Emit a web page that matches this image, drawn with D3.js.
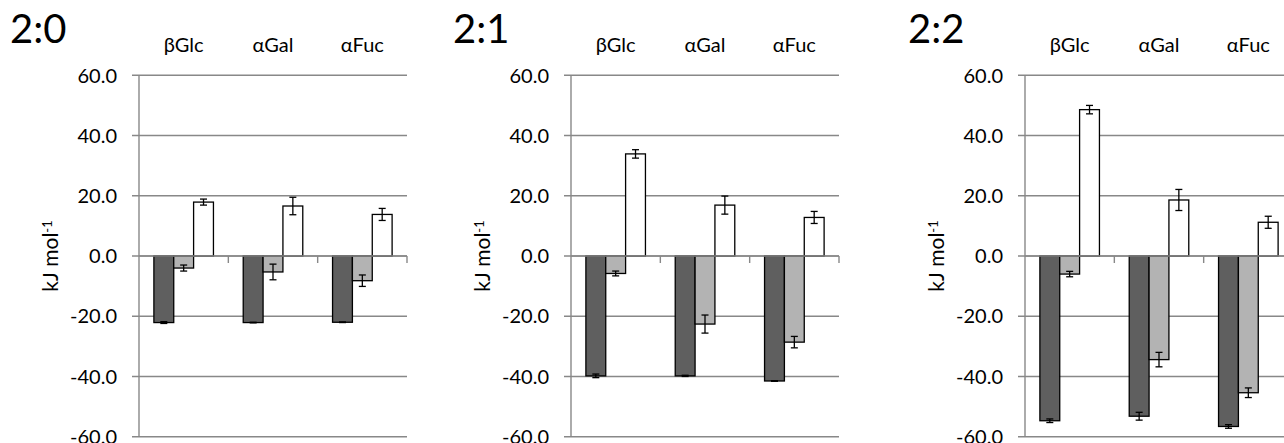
<!DOCTYPE html>
<html><head><meta charset="utf-8">
<script src="https://cdn.jsdelivr.net/npm/d3@7"></script>
<style>
body{margin:0;background:#fff;}
text{font-family:Lato,"Open Sans",sans-serif;fill:#000;}
</style></head>
<body><svg id="c" width="1284" height="443"></svg>
<script>
const categories = ["βGlc","αGal","αFuc"];
const series = ["s1","s2","s3"];
const panelTitles = ["2:0","2:1","2:2"];
const yTicks = [60,40,20,0,-20,-40,-60];
// values [panel][category][series]
const values20 = [[-22.1,-4.0,17.9],[-22.1,-5.3,16.6],[-22.0,-8.2,13.8]];
const errors20 = [[0.3,1.0,1.0],[0.1,2.6,2.9],[0.1,1.9,2.0]];
const values21 = [[-39.8,-5.8,33.9],[-39.8,-22.6,16.9],[-41.5,-28.6,12.8]];
const errors21 = [[0.6,0.8,1.4],[0.2,3.0,3.0],[0.1,1.9,2.0]];
const values22 = [[-54.7,-6.0,48.6],[-53.2,-34.4,18.6],[-56.6,-45.4,11.2]];
const errors22 = [[0.6,0.9,1.4],[1.3,2.4,3.5],[0.6,1.6,2.0]];

const allValues = [values20, values21, values22];
const allErrors = [errors20, errors21, errors22];
const colors = {s1:"#5f5f5f", s2:"#b3b3b3", s3:"#ffffff"};

const fmt = d3.formatLocale({decimal:".", thousands:",", grouping:[3], currency:["",""], minus:"-"}).format(".1f");

const svg = d3.select("#c");
const layout = [
  {axisX:139, titleX:10},
  {axisX:571, titleX:453},
  {axisX:1025, titleX:908}
];
const plotW = 268, plotTop = 75.3, plotBottom = 436.7;
const y = d3.scaleLinear().domain([-60,60]).range([plotBottom, plotTop]);
const grid = "#888888";

layout.forEach((L, p) => {
  const g = svg.append("g").attr("transform", `translate(${L.axisX},0)`);
  const x0 = d3.scaleBand().domain(categories).range([0, plotW]).paddingInner(0).paddingOuter(0);
  const x1 = d3.scaleBand().domain(series).range([0, x0.bandwidth()]).paddingInner(0).paddingOuter(0.75);

  // gridlines
  g.selectAll(".grid").data(yTicks).join("line")
    .attr("x1", -7).attr("x2", plotW)
    .attr("y1", d => y(d)).attr("y2", d => y(d))
    .attr("stroke", grid).attr("stroke-width", 1.4);
  // left axis
  g.append("line").attr("x1",0).attr("x2",0).attr("y1",y(60)).attr("y2",y(-60))
    .attr("stroke", grid).attr("stroke-width", 1.4);
  // tick labels
  g.selectAll(".tl").data(yTicks).join("text")
    .attr("x", -22).attr("y", d => y(d)).attr("dy","0.36em")
    .attr("text-anchor","end").style("font-size","20px")
    .text(d => fmt(d));

  // bars
  const data = [];
  categories.forEach((c, i) => series.forEach((s, j) => {
    data.push({c, s, v: allValues[p][i][j], e: allErrors[p][i][j]});
  }));
  const bars = g.selectAll(".bar").data(data).join("g");
  bars.append("rect")
    .attr("x", d => x0(d.c) + x1(d.s))
    .attr("width", x1.bandwidth())
    .attr("y", d => y(Math.max(0, d.v)))
    .attr("height", d => Math.abs(y(d.v) - y(0)))
    .attr("fill", d => colors[d.s]).attr("stroke", "#000").attr("stroke-width", 1.3);
  // error bars
  const cx = d => x0(d.c) + x1(d.s) + x1.bandwidth()/2;
  bars.append("line").attr("x1", cx).attr("x2", cx)
    .attr("y1", d => y(d.v + d.e)).attr("y2", d => y(d.v - d.e))
    .attr("stroke","#000").attr("stroke-width",1.3);
  [1,-1].forEach(sg => {
    bars.append("line").attr("x1", d => cx(d) - 3.5).attr("x2", d => cx(d) + 3.5)
      .attr("y1", d => y(d.v + sg*d.e)).attr("y2", d => y(d.v + sg*d.e))
      .attr("stroke","#000").attr("stroke-width",1.3);
  });

  // zero axis with category ticks
  g.append("line").attr("x1",0).attr("x2",plotW).attr("y1",y(0)).attr("y2",y(0))
    .attr("stroke", grid).attr("stroke-width", 1.4);
  g.selectAll(".ct").data(categories).join("line")
    .attr("x1", d => x0(d) + x0.bandwidth()).attr("x2", d => x0(d) + x0.bandwidth())
    .attr("y1", y(0)).attr("y2", y(0) + 7)
    .attr("stroke", grid).attr("stroke-width", 1.4);

  // category labels at top
  g.selectAll(".cl").data(categories).join("text")
    .attr("x", d => x0(d) + x0.bandwidth()/2).attr("y", 52)
    .attr("text-anchor","middle").style("font-size","20px")
    .text(d => d);

  // y-axis title
  const yt = svg.append("text")
    .attr("transform", `translate(${L.axisX - 81},${(plotTop+plotBottom)/2}) rotate(-90)`)
    .attr("text-anchor","middle").style("font-size","21px");
  yt.append("tspan").text("kJ mol");
  yt.append("tspan").attr("dy","-0.45em").style("font-size","13px").text("-1");

  // panel title
  svg.append("text").attr("x", L.titleX).attr("y", 43)
    .style("font-size","40px").text(panelTitles[p]);
});
</script></body></html>
